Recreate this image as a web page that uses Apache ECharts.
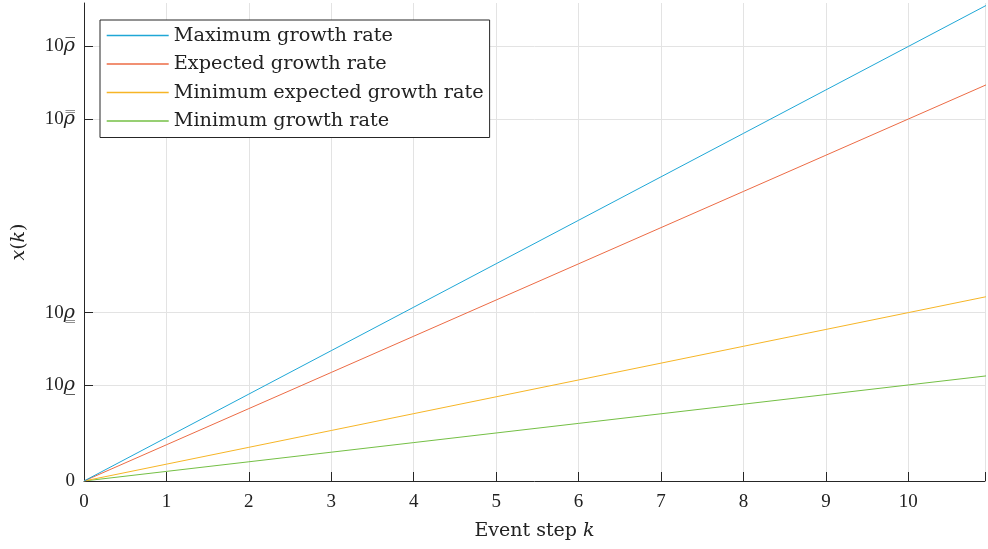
<!DOCTYPE html>
<html>
<head>
<meta charset="utf-8">
<script src="https://cdn.jsdelivr.net/npm/echarts@6/dist/echarts.min.js"></script>
<style>html,body{margin:0;padding:0;background:#fff}#c{width:988px;height:549px}</style>
</head>
<body>
<div id="c"></div>
<script>
// ---- data ----
const kSteps = [0,1,2,3,4,5,6,7,8,9,10,11];
const seriesNames = ['Maximum growth rate','Expected growth rate','Minimum expected growth rate','Minimum growth rate'];
const maxGrowth = [0,1,2,3,4,5,6,7,8,9,10,11];
const expectedGrowth = [0,0.833,1.666,2.499,3.332,4.165,4.998,5.831,6.664,7.497,8.33,9.163];
const minExpectedGrowth = [0,0.3875,0.775,1.1625,1.55,1.9375,2.325,2.7125,3.1,3.4875,3.875,4.2625];
const minGrowth = [0,0.221,0.442,0.663,0.884,1.105,1.326,1.547,1.768,1.989,2.21,2.431];
const yTickValues = [0, 2.21, 3.875, 8.33, 10];
const yTickLabels = ['{n|0}', '{n|10}{r|\u03C1\u0332}', '{n|10}{r|\u03C1\u0333}', '{n|10}{r|\u03C1\u033F}', '{n|10}{r|\u03C1\u0305}'];

const colors = ['#1fa7d6','#ec6b45','#f6b526','#74bf45'];
const seriesData = [maxGrowth, expectedGrowth, minExpectedGrowth, minGrowth];
const FONT = '"Liberation Serif", "DejaVu Serif", serif';
const WFONT = '"DejaVu Serif", serif';
const axisColor = '#262626';
const gridColor = '#e3e3e3';

const chart = echarts.init(document.getElementById('c'), null, {renderer:'canvas'});
const series = seriesNames.map((n,i)=>({
  name:n, type:'line', symbol:'none', showSymbol:false, clip:true,
  data: kSteps.map((k,j)=>[k, seriesData[i][j]]),
  lineStyle:{width:1, color:colors[i]}, itemStyle:{color:colors[i]},
  z: 5 - i, animation:false
}));
// horizontal grid lines at custom y tick values
series.push({
  name:'_grid', type:'line', data:[], silent:true, animation:false, z:0,
  markLine:{ silent:true, symbol:'none', label:{show:false}, animation:false, z:0,
    lineStyle:{type:'solid', color:gridColor, width:1},
    data: yTickValues.slice(1).map(v=>({yAxis:v})) }
});

chart.setOption({
  animation:false,
  color:colors,
  grid:{left:84, right:0, top:3, bottom:68, containLabel:false},
  legend:{
    show:true, orient:'vertical', left:100, top:20, z:50,
    data:seriesNames,
    backgroundColor:'#fff', borderColor:axisColor, borderWidth:1,
    padding:[6,6,7,6], itemWidth:62, itemHeight:20, itemGap:9.5,
    itemStyle:{opacity:0},
    lineStyle:{width:1.4},
    textStyle:{fontFamily:WFONT, fontSize:19.3, color:'#222'}
  },
  xAxis:{
    type:'value', min:0, max:10.93, interval:1,
    axisLine:{show:true, lineStyle:{color:axisColor, width:1}},
    axisTick:{show:true, inside:true, length:9, lineStyle:{color:axisColor}},
    axisLabel:{fontFamily:FONT, fontSize:19, color:'#222', margin:12,
      formatter:v=> (Number.isInteger(v) ? String(v) : '')},
    splitLine:{show:true, lineStyle:{color:gridColor, width:1}},
    name:'{n|Event step }{i|k}', nameLocation:'middle', nameGap:41,
    nameTextStyle:{rich:{n:{fontFamily:WFONT, fontSize:19, color:'#222'}, i:{fontFamily:WFONT, fontSize:19, fontStyle:'italic', color:'#222'}}}
  },
  yAxis:{
    type:'value', min:0, max:11,
    axisLine:{show:true, lineStyle:{color:axisColor, width:1}},
    axisTick:{show:true, inside:true, length:9, lineStyle:{color:axisColor}, customValues:yTickValues},
    axisLabel:{margin:9, customValues:yTickValues,
      formatter:v=>{ const i = yTickValues.indexOf(v); return i>=0 ? yTickLabels[i] : ''; },
      rich:{
        n:{fontFamily:FONT, fontSize:19, color:'#222'},
        r:{fontFamily:WFONT, fontStyle:'italic', fontSize:19, color:'#222'}
      }},
    splitLine:{show:false},
    name:'{i|x}{n|(}{i|k}{n|)}', nameLocation:'middle', nameGap:55, nameRotate:90,
    nameTextStyle:{rich:{n:{fontFamily:WFONT, fontSize:19, color:'#222'}, i:{fontFamily:WFONT, fontSize:19, fontStyle:'italic', color:'#222'}}}
  },
  series:series
});
</script>
</body>
</html>
